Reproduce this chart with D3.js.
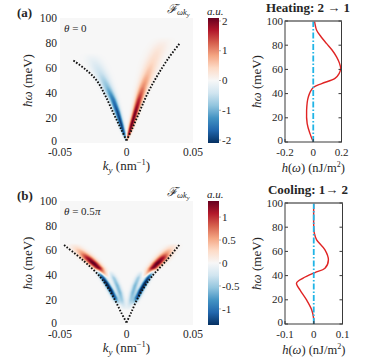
<!DOCTYPE html>
<html>
<head>
<meta charset="utf-8">
<script src="https://cdn.jsdelivr.net/npm/d3@7"></script>
<style>
  body { margin: 0; background: #fff; }
  svg text { font-family: 'Liberation Serif', 'DejaVu Serif', serif; fill: #262626; }
  .it { font-style: italic; }
</style>
</head>
<body>
<div id="chart"></div>
<script>
// ---- data ----
const kTicks = [-0.05, 0, 0.05];
const kTickLabels = ['-0.05', '0', '0.05'];
const wTicks = [0, 20, 40, 60, 80, 100];

const cbTicksA = [-2, -1, 0, 1, 2];
const cbTicksB = [-1, -0.5, 0, 0.5, 1];
const cbMaxA = 2.1;
const cbMaxB = 1.35;

const hTicksA = [-0.2, 0, 0.2];
const hTicksB = [-0.1, 0, 0.1];

// dotted dispersion curves [k (nm^-1), ħω (meV)]
const dispA_right = [[0, 2], [0.0045, 12], [0.0102, 26], [0.016, 40], [0.0227, 53], [0.031, 67], [0.0402, 80]];
const dispA_left = [[0, 2], [-0.0045, 12], [-0.0099, 24], [-0.016, 38], [-0.0224, 50], [-0.031, 59], [-0.040, 66]];
const dispB_right = [[0, 2], [0.0035, 10], [0.0077, 20], [0.013, 30], [0.019, 39], [0.030, 52], [0.040, 65]];
const dispB_left = [[0, 2], [-0.004, 10], [-0.0086, 20], [-0.014, 30], [-0.020, 39], [-0.0325, 52], [-0.047, 64.5]];

// spectral weight ridges: along ħω, centre k, amplitude, spread
const ridgesA = [
  { omega: [2, 8, 15, 25, 35, 45, 55, 65, 75, 85],
    k:     [0.0003, 0.002, 0.004, 0.0068, 0.0095, 0.0125, 0.016, 0.0195, 0.024, 0.029],
    amp:   [0.6, 1.8, 2.1, 2.0, 1.6, 1.0, 0.65, 0.4, 0.25, 0],
    sig:   [0.0006, 0.001, 0.0013, 0.0016, 0.002, 0.0026, 0.0032, 0.0038, 0.0042, 0.0045] },
  { omega: [2, 8, 15, 25, 35, 45, 55, 65, 72],
    k:     [-0.0003, -0.002, -0.004, -0.0068, -0.0102, -0.0145, -0.019, -0.024, -0.027],
    amp:   [-0.6, -1.8, -2.0, -1.9, -1.5, -0.9, -0.5, -0.22, 0],
    sig:   [0.0006, 0.001, 0.0013, 0.0016, 0.002, 0.0027, 0.0034, 0.004, 0.0042] },
];
const ridgesB = [
  { omega: [38, 42, 46, 50, 54, 58, 62, 66],
    k:     [-0.015, -0.018, -0.021, -0.025, -0.029, -0.033, -0.037, -0.040],
    amp:   [0, 0.6, 1.25, 1.4, 1.15, 0.6, 0.25, 0],
    sig:   [0.002, 0.0022, 0.0025, 0.0028, 0.003, 0.0032, 0.0032, 0.0032] },
  { omega: [38, 42, 46, 50, 54, 58, 62, 66],
    k:     [0.014, 0.017, 0.020, 0.0235, 0.027, 0.030, 0.033, 0.036],
    amp:   [0, 0.6, 1.25, 1.4, 1.15, 0.6, 0.25, 0],
    sig:   [0.002, 0.0022, 0.0025, 0.0028, 0.003, 0.0032, 0.0032, 0.0032] },
  { omega: [16, 22, 28, 34, 40, 46],
    k:     [-0.006, -0.0088, -0.0118, -0.0152, -0.019, -0.0228],
    amp:   [0, -1.1, -1.45, -1.45, -1.1, 0],
    sig:   [0.0015, 0.0015, 0.0015, 0.0015, 0.0015, 0.0015] },
  { omega: [16, 22, 28, 34, 40, 46],
    k:     [0.0055, 0.008, 0.0108, 0.014, 0.0175, 0.021],
    amp:   [0, -1.1, -1.45, -1.45, -1.1, 0],
    sig:   [0.0015, 0.0015, 0.0015, 0.0015, 0.0015, 0.0015] },
  { omega: [12, 20, 26, 32, 38, 44],
    k:     [-0.0015, -0.0035, -0.005, -0.007, -0.0095, -0.0125],
    amp:   [0, -0.45, -0.6, -0.6, -0.45, 0],
    sig:   [0.0016, 0.0016, 0.0016, 0.0016, 0.0016, 0.0016] },
  { omega: [12, 20, 26, 32, 38, 44],
    k:     [0.0015, 0.0033, 0.0047, 0.0065, 0.0088, 0.0115],
    amp:   [0, -0.45, -0.6, -0.6, -0.45, 0],
    sig:   [0.0016, 0.0016, 0.0016, 0.0016, 0.0016, 0.0016] },
];

// h(ω) curves
const heatOmega = [0, 6.9, 15.2, 26.2, 37.2, 45, 48.3, 52.6, 56.5, 60.7, 65, 70.2, 76, 81.3, 87, 92.3, 99, 100];
const heatH = [0, -0.023, -0.043, -0.047, -0.035, 0, 0.06, 0.154, 0.183, 0.194, 0.186, 0.166, 0.133, 0.095, 0.055, 0.024, 0.01, 0.008];
const coolOmega = [0, 4, 11.6, 19.9, 28.2, 33.7, 37.9, 42.5, 46.1, 53, 61.3, 69.6, 75, 80, 100];
const coolH = [0, 0, -0.007, -0.025, -0.048, -0.060, -0.037, 0.004, 0.039, 0.051, 0.039, 0.010, 0.002, 0, 0];

// ---- drawing ----
const width = 374, height = 362;
const svg = d3.select('#chart').append('svg')
  .attr('width', width).attr('height', height)
  .attr('viewBox', `0 0 ${width} ${height}`);

// red (0) -> white (0.5) -> blue (1), exact white-gray in the middle
const rdbu = d3.piecewise(d3.interpolateRgb, d3.schemeRdBu[11]);

function renderHeatPanel(o) {
  const x = d3.scaleLinear().domain([-0.05, 0.05]).range([o.left, o.right]);
  const y = d3.scaleLinear().domain([0, 100]).range([o.bottom, o.top]);

  const ridges = o.ridges.map((r) => ({
    lo: r.omega[0], hi: r.omega[r.omega.length - 1],
    kc: d3.scaleLinear().domain(r.omega).range(r.k),
    a: d3.scaleLinear().domain(r.omega).range(r.amp),
    s: d3.scaleLinear().domain(r.omega).range(r.sig),
  }));

  const nx = Math.round((o.right - o.left) * 2);
  const ny = Math.round((o.bottom - o.top) * 2);
  const canvas = document.createElement('canvas');
  canvas.width = nx; canvas.height = ny;
  const ctx = canvas.getContext('2d');
  const img = ctx.createImageData(nx, ny);
  const lut = d3.range(257).map((i) => d3.rgb(rdbu(i / 256)));
  for (let j = 0; j < ny; j++) {
    const w = y.invert(o.top + (j + 0.5) / 2);
    for (let i = 0; i < nx; i++) {
      const k = x.invert(o.left + (i + 0.5) / 2);
      let v = 0;
      for (const r of ridges) {
        if (w < r.lo || w > r.hi) continue;
        const d = (k - r.kc(w)) / r.s(w);
        v += r.a(w) * Math.exp(-0.5 * d * d);
      }
      const t = Math.max(0, Math.min(1, 0.5 - v / (2 * o.cbMax)));
      const c = lut[Math.round(t * 256)];
      const p = (j * nx + i) * 4;
      img.data[p] = c.r; img.data[p + 1] = c.g; img.data[p + 2] = c.b; img.data[p + 3] = 255;
    }
  }
  ctx.putImageData(img, 0, 0);
  svg.append('image')
    .attr('href', canvas.toDataURL())
    .attr('x', o.left).attr('y', o.top)
    .attr('width', o.right - o.left).attr('height', o.bottom - o.top)
    .attr('preserveAspectRatio', 'none');

  // dotted dispersion
  const line = d3.line().x((d) => x(d[0])).y((d) => y(d[1])).curve(d3.curveCatmullRom);
  [o.dispL, o.dispR].forEach((dd) => {
    svg.append('path').attr('d', line(dd))
      .attr('fill', 'none').attr('stroke', '#111')
      .attr('stroke-width', 1.9).attr('stroke-dasharray', '1.6,1.6');
  });

  // tick labels
  svg.append('g').selectAll('text').data(kTicks).join('text')
    .attr('x', (d) => x(d)).attr('y', o.bottom + 13)
    .attr('text-anchor', 'middle').attr('font-size', 11.5)
    .text((d, i) => kTickLabels[i]);
  svg.append('g').selectAll('text').data(wTicks).join('text')
    .attr('x', o.left - 3).attr('y', (d) => y(d) - (d === 0 ? 1.5 : 0)).attr('dy', '0.33em')
    .attr('text-anchor', 'end').attr('font-size', 11.5)
    .text((d) => d);

  // axis labels
  const xl = svg.append('text').attr('x', (o.left + o.right) / 2).attr('y', o.bottom + 27)
    .attr('text-anchor', 'middle').attr('font-size', 13);
  xl.append('tspan').attr('class', 'it').text('k');
  xl.append('tspan').attr('class', 'it').attr('font-size', 9).attr('dy', 3).text('y');
  xl.append('tspan').attr('dy', -3).text(' (nm');
  xl.append('tspan').attr('font-size', 8.5).attr('dy', -5).text('−1');
  xl.append('tspan').attr('dy', 5).text(')');

  const yl = svg.append('text')
    .attr('transform', `translate(${o.left - 28},${(o.top + o.bottom) / 2}) rotate(-90)`)
    .attr('text-anchor', 'middle').attr('font-size', 13);
  yl.append('tspan').attr('class', 'it').text('ħω');
  yl.append('tspan').text(' (meV)');

  // panel letter, θ, F label
  svg.append('text').attr('x', 17).attr('y', o.top - 1).attr('font-weight', 'bold')
    .attr('font-size', 13).text(o.letter);
  const th = svg.append('text').attr('x', o.left + 4).attr('y', o.top + 14).attr('font-size', 11);
  th.append('tspan').attr('class', 'it').text('θ');
  th.append('tspan').text(' = ' + o.theta);
  th.append('tspan').attr('class', 'it').text(o.thetaPi);

  const fl = svg.append('text').attr('x', o.right - 26).attr('y', o.top - 5).attr('font-size', 12);
  fl.append('tspan').attr('class', 'it').attr('font-size', 12.5).text('ℱ');
  fl.append('tspan').attr('class', 'it').attr('font-size', 8.5).attr('dy', 2).text('ωk');
  fl.append('tspan').attr('class', 'it').attr('font-size', 6.5).attr('dy', 2).text('y');

  svg.append('text').attr('class', 'it').attr('x', o.cbX - 1).attr('y', o.top - 3)
    .attr('font-size', 11).text('a.u.');

  // colorbar
  const gid = 'grad' + o.letter.replace(/\W/g, '');
  const grad = svg.append('defs').append('linearGradient').attr('id', gid)
    .attr('x1', 0).attr('x2', 0).attr('y1', 0).attr('y2', 1);
  d3.range(0, 1.0001, 0.05).forEach((t) => {
    grad.append('stop').attr('offset', t).attr('stop-color', rdbu(t));
  });
  svg.append('rect').attr('x', o.cbX).attr('y', o.top).attr('width', 11)
    .attr('height', o.bottom - o.top).attr('fill', `url(#${gid})`);
  const cy = d3.scaleLinear().domain([-o.cbMax, o.cbMax]).range([o.bottom, o.top]);
  const cbg = svg.append('g');
  cbg.selectAll('line').data(o.cbTicks).join('line')
    .attr('x1', o.cbX + 11).attr('x2', o.cbX + 13)
    .attr('y1', (d) => cy(d)).attr('y2', (d) => cy(d))
    .attr('stroke', '#777').attr('stroke-width', 0.6);
  cbg.selectAll('text').data(o.cbTicks).join('text')
    .attr('x', o.cbX + 14).attr('y', (d) => cy(d)).attr('dy', '0.33em')
    .attr('font-size', 11).text((d) => d);
}

function renderLinePanel(o) {
  const x = d3.scaleLinear().domain(o.hDomain).range([o.left, o.right]);
  const y = d3.scaleLinear().domain([0, 100]).range([o.bottom, o.top]);
  const g = svg.append('g');

  const line = d3.line().x((d, i) => x(o.h[i])).y((d) => y(d)).curve(d3.curveCatmullRom);
  g.append('path').attr('d', line(o.omega))
    .attr('fill', 'none').attr('stroke', '#e02424').attr('stroke-width', 1.4);

  // zero line (dash-dot)
  g.append('line').attr('x1', x(0)).attr('x2', x(0)).attr('y1', y(0)).attr('y2', y(100))
    .attr('stroke', '#21b4e6').attr('stroke-width', 1.8)
    .attr('stroke-dasharray', '6,2,1.5,2');

  g.append('rect').attr('x', o.left).attr('y', o.top)
    .attr('width', o.right - o.left).attr('height', o.bottom - o.top)
    .attr('fill', 'none').attr('stroke', '#3a3a3a').attr('stroke-width', 1);
  g.append('line').attr('x1', o.left).attr('x2', o.right).attr('y1', o.top).attr('y2', o.top)
    .attr('stroke', '#8a8a8a').attr('stroke-width', 1.6);

  // inner ticks
  wTicks.forEach((d) => {
    g.append('line').attr('x1', o.left).attr('x2', o.left + 3).attr('y1', y(d)).attr('y2', y(d)).attr('stroke', '#3a3a3a');
    g.append('line').attr('x1', o.right - 3).attr('x2', o.right).attr('y1', y(d)).attr('y2', y(d)).attr('stroke', '#3a3a3a');
  });
  o.hTicks.forEach((d) => {
    g.append('line').attr('x1', x(d)).attr('x2', x(d)).attr('y1', o.bottom).attr('y2', o.bottom - 3).attr('stroke', '#3a3a3a');
  });

  g.selectAll('text.yt').data(wTicks).join('text').attr('class', 'yt')
    .attr('x', o.left - 2).attr('y', (d) => y(d) - (d === 0 ? 1.5 : 0)).attr('dy', '0.33em')
    .attr('text-anchor', 'end').attr('font-size', 11).text((d) => d);
  g.selectAll('text.xt').data(o.hTicks).join('text').attr('class', 'xt')
    .attr('x', (d) => x(d)).attr('y', o.bottom + 14)
    .attr('text-anchor', 'middle').attr('font-size', 11).text((d) => d);

  const xl = g.append('text').attr('x', (o.left + o.right) / 2).attr('y', o.bottom + 30)
    .attr('text-anchor', 'middle').attr('font-size', 12.5);
  xl.append('tspan').attr('class', 'it').text('h');
  xl.append('tspan').text('(');
  xl.append('tspan').attr('class', 'it').text('ω');
  xl.append('tspan').text(')  (nJ/m');
  xl.append('tspan').attr('font-size', 8).attr('dy', -5).text('2');
  xl.append('tspan').attr('dy', 5).text(')');

  const yl = g.append('text')
    .attr('transform', `translate(${o.left - 24},${(o.top + o.bottom) / 2}) rotate(-90)`)
    .attr('text-anchor', 'middle').attr('font-size', 13);
  yl.append('tspan').attr('class', 'it').text('ħω');
  yl.append('tspan').text(' (meV)');

  g.append('text').attr('x', 308).attr('y', o.top - 9).attr('text-anchor', 'middle')
    .attr('font-weight', 'bold').attr('font-size', 13).text(o.title);
}

renderHeatPanel({
  left: 60, right: 193, top: 18, bottom: 143, letter: '(a)',
  theta: '0', thetaPi: '', ridges: ridgesA, dispL: dispA_left, dispR: dispA_right,
  cbX: 208, cbMax: cbMaxA, cbTicks: cbTicksA,
});
renderHeatPanel({
  left: 60, right: 193, top: 201, bottom: 325, letter: '(b)',
  theta: '0.5', thetaPi: 'π', ridges: ridgesB, dispL: dispB_left, dispR: dispB_right,
  cbX: 208, cbMax: cbMaxB, cbTicks: cbTicksB,
});

renderLinePanel({
  left: 285, right: 341.5, top: 21, bottom: 142, hDomain: [-0.2, 0.2], hTicks: hTicksA,
  omega: heatOmega, h: heatH, title: 'Heating: 2 → 1',
});
renderLinePanel({
  left: 285, right: 342.5, top: 203, bottom: 324, hDomain: [-0.1, 0.1], hTicks: hTicksB,
  omega: coolOmega, h: coolH, title: 'Cooling: 1→ 2',
});
</script>
</body>
</html>
